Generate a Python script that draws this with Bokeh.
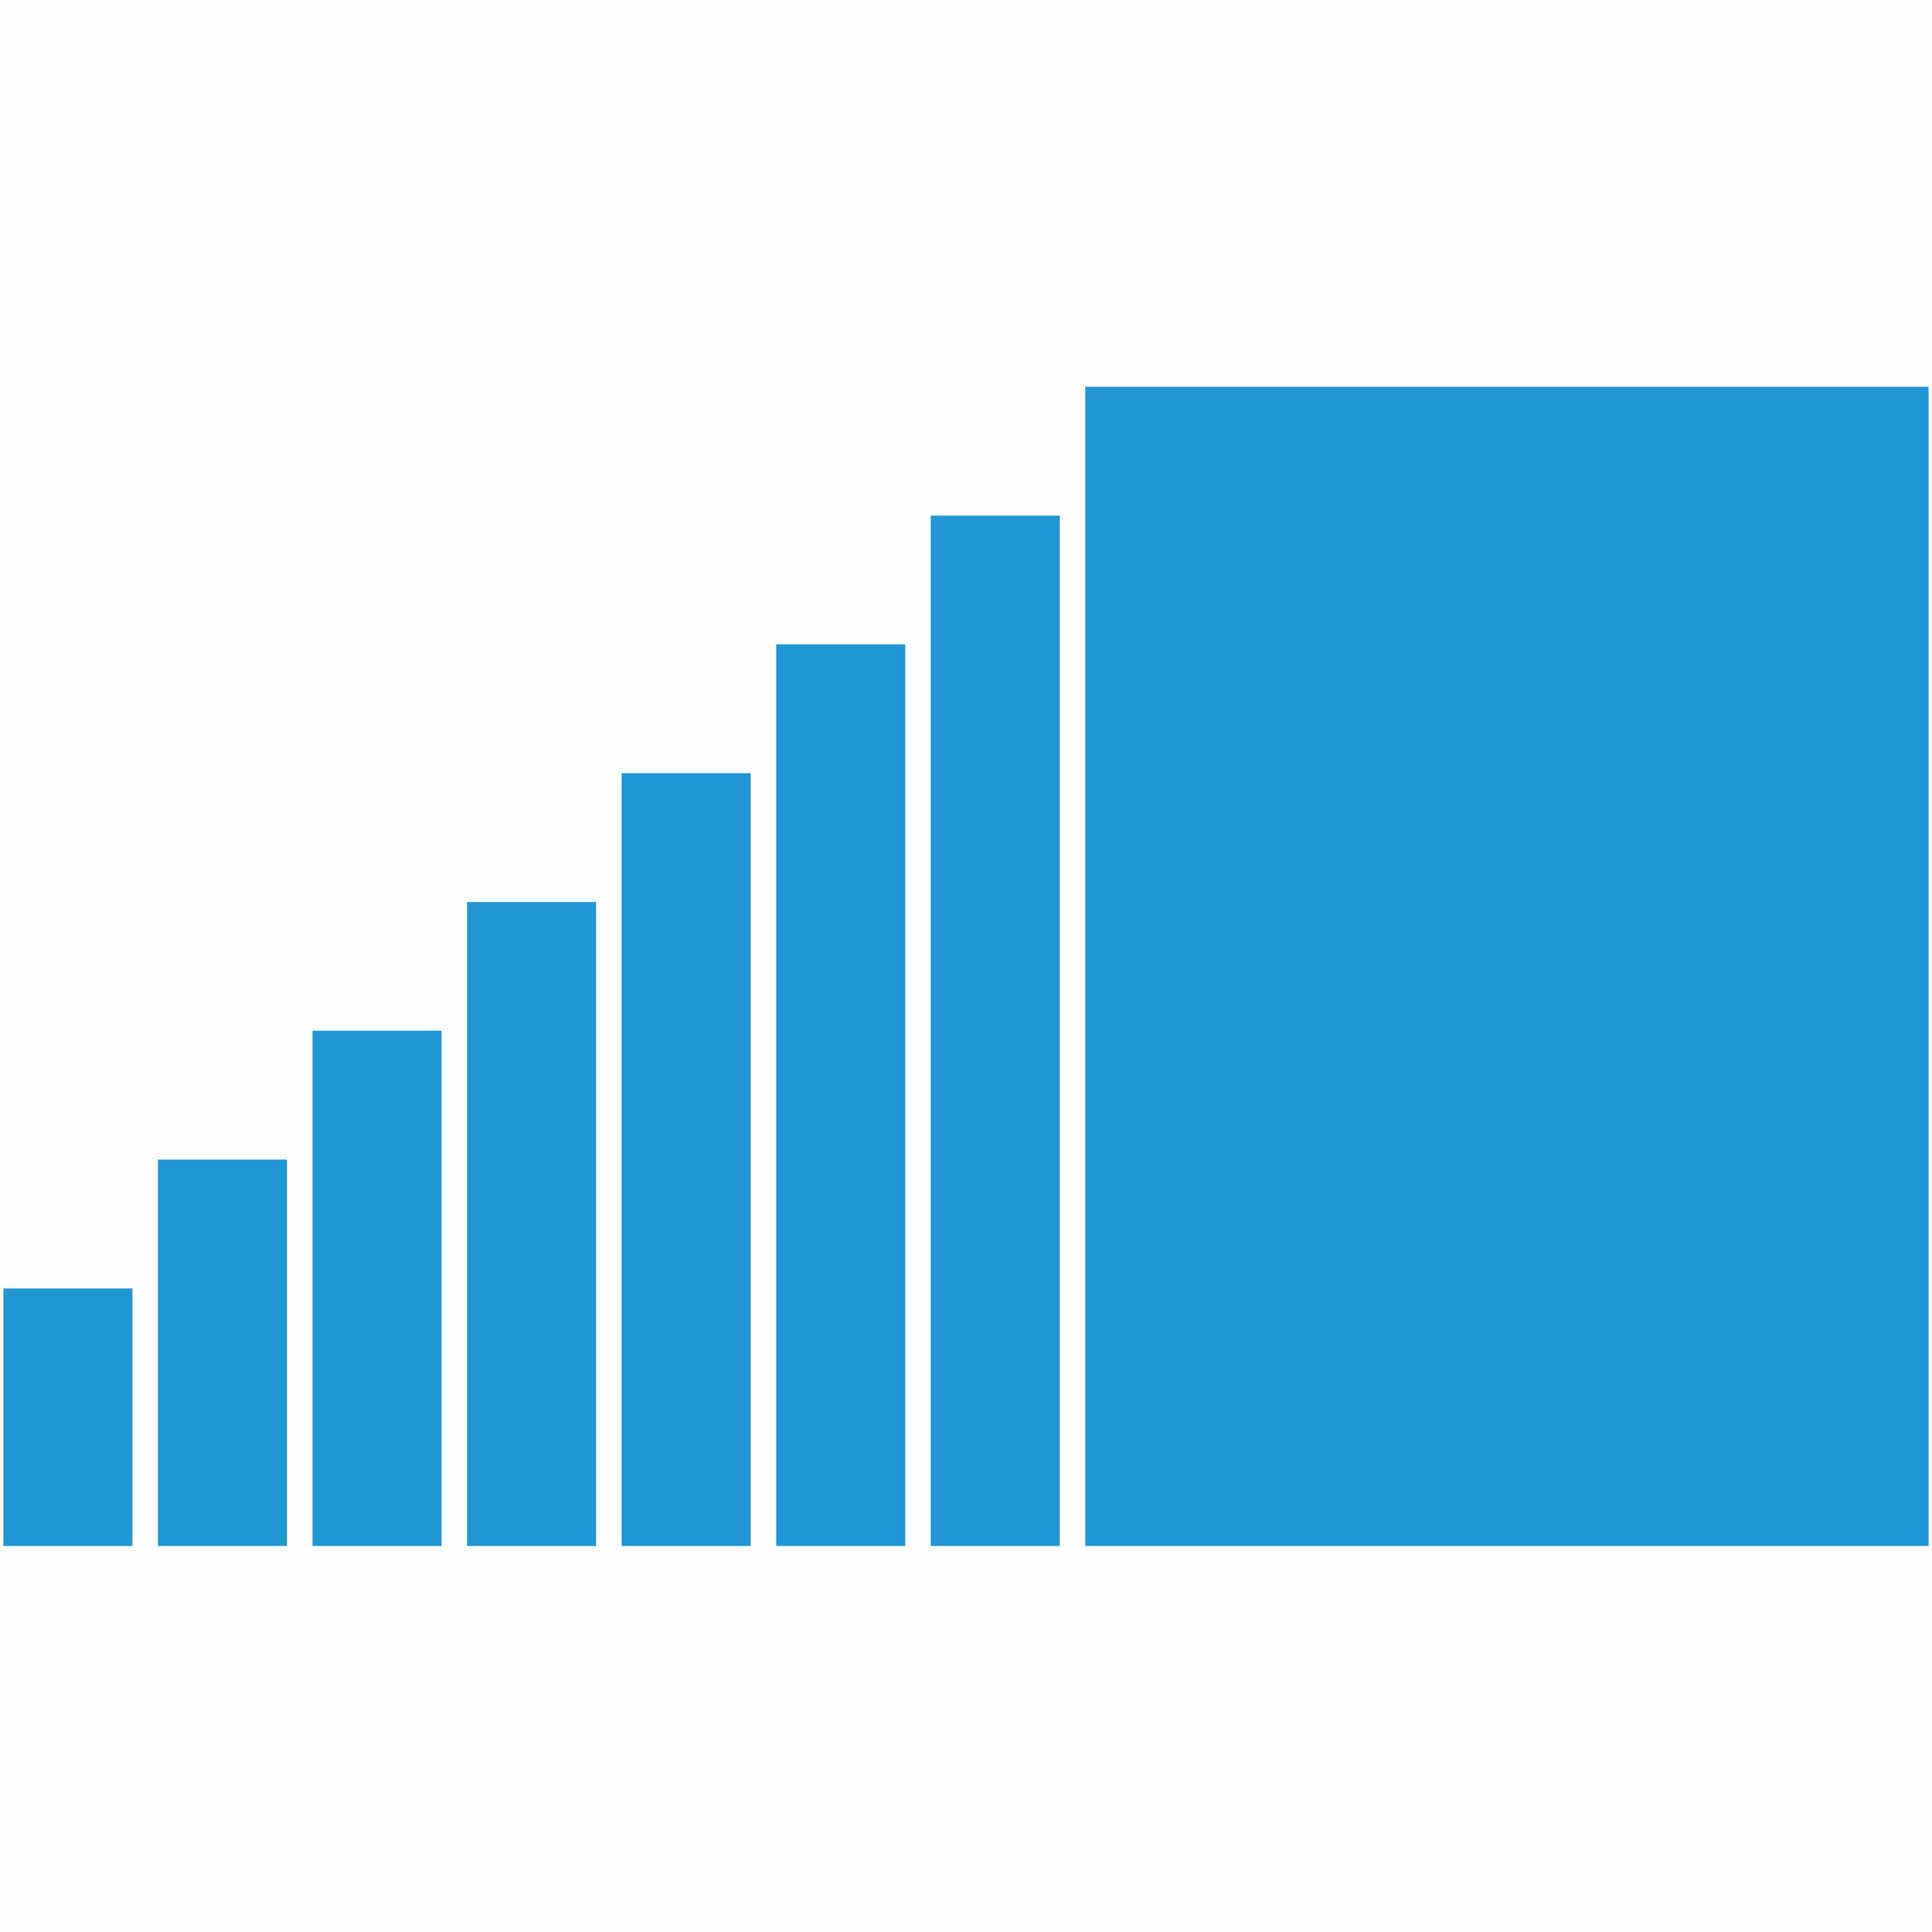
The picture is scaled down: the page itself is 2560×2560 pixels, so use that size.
from bokeh.plotting import figure
from bokeh.models import Range1d, ColumnDataSource
from bokeh.embed import file_html
from bokeh.resources import INLINE

# Data: bar heights (in step units)
categories = ["1", "2", "3", "4", "5", "6", "7", "8"]
values = [2, 3, 4, 5, 6, 7, 8, 9]

# Layout (pixel-based x scale)
UNIT = 170.67
PITCH = 204.8
BAR_W = 171
X0 = 4
BIG_RIGHT = 2555

lefts, rights = [], []
for i in range(len(values)):
    l = X0 + i * PITCH
    lefts.append(l)
    rights.append(l + BAR_W if i < len(values) - 1 else BIG_RIGHT)

src = ColumnDataSource(dict(cat=categories, left=lefts, right=rights,
                            top=[v * UNIT for v in values],
                            bottom=[0] * len(values)))

W = H = 2560
p = figure(width=W, height=H, output_backend="svg", toolbar_location=None,
           x_range=Range1d(0, W),
           y_range=Range1d(2048 - H, 2048),
           min_border=0)
p.quad(left="left", right="right", top="top", bottom="bottom", source=src,
       fill_color="#2196D3", line_color=None)
p.axis.visible = False
p.grid.visible = False
p.outline_line_color = None
p.background_fill_color = "#FDFDFD"
p.border_fill_color = "#FDFDFD"

open("out.html", "w").write(file_html(p, INLINE))
